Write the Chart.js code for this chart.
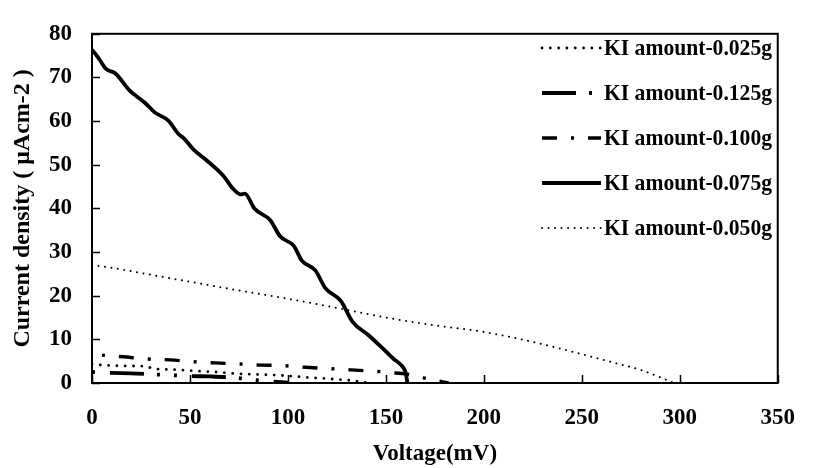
<!DOCTYPE html>
<html>
<head>
<meta charset="utf-8">
<script src="https://cdn.jsdelivr.net/npm/chart.js@4/dist/chart.umd.min.js"></script>
<style>
  html, body { margin: 0; padding: 0; background: #fff; }
  #chart { display: block; }
</style>
</head>
<body>
<canvas id="chart" width="816" height="468"></canvas>
<script>
// ================= DATA =================
const seriesLabels = [
    "KI amount-0.025g",
    "KI amount-0.125g",
    "KI amount-0.100g",
    "KI amount-0.075g",
    "KI amount-0.050g"
];

// KI 0.025g
const voltage025 = [0, 10, 20, 28, 31, 40, 48, 56, 64, 72, 81, 94, 110, 126, 136, 141];
const current025 = [4.3, 4.0, 3.9, 3.8, 3.3, 3.1, 2.9, 2.7, 2.5, 2.2, 2.0, 1.8, 1.3, 0.8, 0.4, 0];

// KI 0.125g
const voltage125 = [0, 10, 20, 30, 40, 50, 60, 70, 79, 90, 100];
const current125 = [2.5, 2.3, 2.2, 2.0, 1.8, 1.6, 1.5, 1.3, 0.9, 0.4, 0.1];

// KI 0.100g
const voltage100 = [0, 5, 16, 28, 40, 51, 63, 74, 86, 97, 109, 121, 132, 144, 155, 160, 167, 175, 182];
const current100 = [6.7, 6.4, 6.0, 5.5, 5.3, 4.9, 4.6, 4.4, 4.1, 4.0, 3.6, 3.3, 3.0, 2.7, 2.3, 2.1, 1.4, 0.6, 0];

// KI 0.075g
const voltage075 = [0, 4, 7, 12, 19, 27, 32, 39, 44, 47, 52, 58, 67, 72, 76, 78, 83, 91, 96, 103, 107, 114, 119, 127, 133, 141, 148, 154, 158, 160, 161];
const current075 = [76.4, 74.0, 72.0, 70.9, 67.1, 64.2, 62.0, 60.1, 57.1, 56.0, 53.4, 51.2, 47.5, 44.5, 43.2, 43.4, 39.9, 37.3, 33.6, 31.4, 28.1, 25.8, 21.8, 18.8, 14.0, 11.0, 8.1, 5.5, 4.0, 2.5, 0];

// KI 0.050g
const voltage050 = [0, 10, 25, 50, 75, 100, 125, 150, 175, 200, 225, 250, 265, 280, 290, 297];
const current050 = [27, 26.4, 25.2, 23.2, 21.2, 19.3, 17.2, 15.0, 13.2, 11.7, 9.4, 6.6, 4.8, 3.0, 1.3, 0];

const xTicks = [0, 50, 100, 150, 200, 250, 300, 350];
const yTicks = [0, 10, 20, 30, 40, 50, 60, 70, 80];

const FONT = "'Liberation Serif', 'Times New Roman', serif";

function toPoints(xs, ys) {
    return xs.map((x, i) => ({ x: x, y: ys[i] }));
}

// ================= FRAME + INNER TICKS + LEGEND =================
const framePlugin = {
    id: "frame",
    afterDraw(chart) {
        const ctx = chart.ctx;
        const a = chart.chartArea;
        const xs = chart.scales.x;
        const ys = chart.scales.y;

        ctx.save();
        ctx.strokeStyle = "#000";

        // inner ticks
        ctx.lineWidth = 1.5;
        ctx.beginPath();
        xTicks.forEach(v => {
            const px = Math.round(xs.getPixelForValue(v)) + 0.5;
            ctx.moveTo(px, a.bottom);
            ctx.lineTo(px, a.bottom - 8);
        });
        yTicks.forEach(v => {
            const py = Math.round(ys.getPixelForValue(v)) + 0.5;
            ctx.moveTo(a.left, py);
            ctx.lineTo(a.left + 8, py);
        });
        ctx.stroke();

        // box
        ctx.lineWidth = 2;
        ctx.strokeRect(a.left, a.top, a.right - a.left, a.bottom - a.top);

        // legend (no border, inside the plot, top right)
        ctx.textBaseline = "middle";
        ctx.textAlign = "left";
        ctx.fillStyle = "#000";
        chart.data.datasets.forEach((ds, i) => {
            const y = 48 + i * 45;
            ctx.save();
            ctx.lineWidth = ds.borderWidth;
            ctx.lineCap = ds.borderCapStyle || "butt";
            ctx.setLineDash(ds.borderDash || []);
            ctx.beginPath();
            ctx.moveTo(542, y);
            ctx.lineTo(601, y);
            ctx.stroke();
            ctx.restore();

            // condensed bold serif like the original
            ctx.save();
            ctx.font = "bold 24px " + FONT;
            ctx.translate(604, y + 1);
            ctx.scale(0.9, 1);
            ctx.fillText(ds.label, 0, 0);
            ctx.restore();
        });

        ctx.restore();
    }
};

// ================= CHART =================
const datasets = [
    { label: seriesLabels[0], data: toPoints(voltage025, current025), borderWidth: 2.8, borderDash: [0.01, 8.3], borderCapStyle: "round" },
    { label: seriesLabels[1], data: toPoints(voltage125, current125), borderWidth: 3.8, borderDash: [34, 13, 3, 14, 3, 15], borderDashOffset: 64 },
    { label: seriesLabels[2], data: toPoints(voltage100, current100), borderWidth: 3.4, borderDash: [15, 14, 3, 14], borderDashOffset: 19 },
    { label: seriesLabels[3], data: toPoints(voltage075, current075), borderWidth: 3.8, borderDash: [] },
    { label: seriesLabels[4], data: toPoints(voltage050, current050), borderWidth: 2, borderDash: [0.01, 6.5], borderCapStyle: "round" }
].map(d => Object.assign({
    borderColor: "#000",
    backgroundColor: "#000",
    showLine: true,
    pointRadius: 0,
    cubicInterpolationMode: "monotone",
    fill: false
}, d));

new Chart(document.getElementById("chart"), {
    type: "scatter",
    data: { datasets: datasets },
    options: {
        responsive: false,
        animation: false,
        devicePixelRatio: 1,
        layout: { padding: { top: 23, right: 18, left: 0, bottom: 0 } },
        plugins: {
            legend: { display: false },
            tooltip: { enabled: false }
        },
        scales: {
            x: {
                type: "linear",
                min: 0,
                max: 350,
                afterFit(s) { s.height = 85; },
                afterBuildTicks(s) { s.ticks = xTicks.map(v => ({ value: v })); },
                grid: { display: false, drawTicks: false },
                border: { display: false },
                ticks: {
                    color: "#000",
                    padding: 21,
                    maxRotation: 0,
                    font: { family: FONT, size: 23, weight: "bold" }
                },
                title: {
                    display: true,
                    text: "Voltage(mV)",
                    color: "#000",
                    padding: { top: 0, bottom: 0 },
                    font: { family: FONT, size: 23, weight: "bold" }
                }
            },
            y: {
                min: 0,
                max: 80,
                afterFit(s) { s.width = 92; },
                afterBuildTicks(s) { s.ticks = yTicks.map(v => ({ value: v })); },
                grid: { display: false, drawTicks: false },
                border: { display: false },
                ticks: {
                    color: "#000",
                    padding: 20,
                    font: { family: FONT, size: 23, weight: "bold" }
                },
                title: {
                    display: true,
                    text: "Current density ( μAcm-2 )",
                    color: "#000",
                    padding: { top: 8, bottom: 0 },
                    font: { family: FONT, size: 24, weight: "bold" }
                }
            }
        }
    },
    plugins: [framePlugin]
});
</script>
</body>
</html>
